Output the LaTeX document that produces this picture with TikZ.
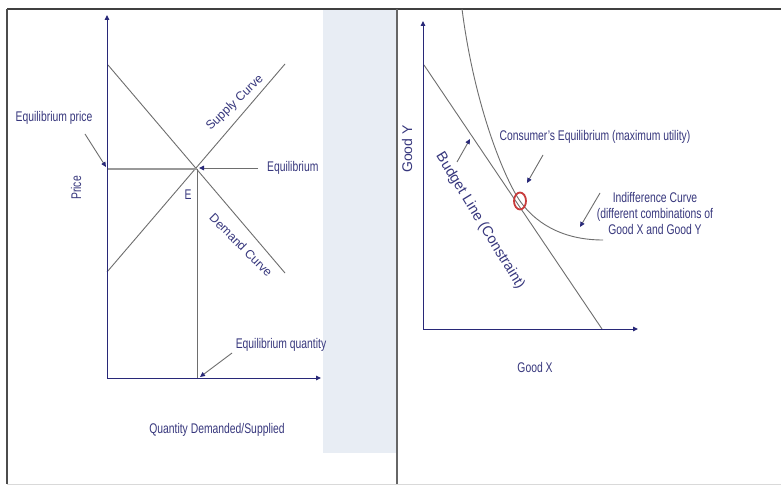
\documentclass[tikz,border=0pt]{standalone}
\usepackage{fontspec}
\setmainfont{Liberation Sans}[FakeStretch=0.74]
\newfontfamily\plainsans{Liberation Sans}
\usetikzlibrary{arrows.meta,shapes.geometric}
\definecolor{txtblue}{RGB}{55,55,125}
\definecolor{navy}{RGB}{40,40,120}
\definecolor{linegray}{RGB}{110,110,110}
\definecolor{panel}{RGB}{232,237,244}
\definecolor{ringred}{RGB}{200,60,60}
\begin{document}
\begin{tikzpicture}[x=1pt,y=-1pt,
  lbl/.style={text=txtblue,font=\fontsize{14}{16}\selectfont,inner sep=1pt},
  rlbl/.style={text=txtblue,font=\plainsans\fontsize{#1}{#1}\selectfont,inner sep=1pt},
  axis/.style={navy,line width=1pt,-{Triangle[length=5pt,width=4.5pt]}},
  curve/.style={linegray,line width=0.9pt},
  pointer/.style={linegray,line width=0.9pt,-{Triangle[length=5pt,width=4.5pt,color=navy]}}]
\useasboundingbox (0,0) rectangle (781,486);
\fill[white] (0,0) rectangle (781,486);
% frame
\fill[panel] (323,10) rectangle (396,453);
\draw[black!75,line width=1.6pt] (7,9) -- (781,9);
\draw[black!70,line width=1.2pt] (7,9) -- (7,484);
\draw[black!60,line width=1.4pt] (397,9) -- (397,484);
\draw[black!15,line width=0.8pt] (7,484) -- (781,484);
% ---------------- left panel
\coordinate (o1) at (107,378);
\coordinate (yt1) at (107,15);
\coordinate (xt1) at (321,378);
\coordinate (dA) at (108,65);
\coordinate (dB) at (285,273);
\coordinate (sA) at (107,272);
\coordinate (sB) at (285,64);
\coordinate (E) at (197,169);
\coordinate (pE) at (107,169);
\coordinate (qE) at (197,378);
\draw[curve] (dA) -- (dB);
\draw[curve] (sA) -- (sB);
\draw[black!40,line width=2pt] (pE) -- (E);
\draw[curve] (E) -- (qE);
\draw[axis] (o1) -- (yt1);
\draw[axis] (o1) -- (xt1);
\node[lbl] (ep) at (54,118) {Equilibrium price};
\coordinate (epT) at (85,134);
\coordinate (epH) at (106,167);
\draw[pointer] (epT) -- (epH);
\node[lbl,anchor=west] (eq) at (266,168) {Equilibrium};
\coordinate (eqH) at (199,168);
\coordinate (eqT) at (258,168);
\draw[pointer] (eqT) -- (eqH);
\node[lbl] (Elbl) at (188,195) {E};
\node[lbl,rotate=90] (price) at (76,188) {Price};
\node[rlbl=12.3,rotate=44] (supply) at (235,103) {Supply Curve};
\node[rlbl=12.3,rotate=-45] (demand) at (241,245) {Demand Curve};
\node[lbl] (eqq) at (281,345) {Equilibrium quantity};
\coordinate (eqqT) at (232,353);
\coordinate (eqqH) at (200,377);
\draw[pointer] (eqqT) -- (eqqH);
\node[lbl] (qds) at (217,430) {Quantity Demanded/Supplied};
% ---------------- right panel
\coordinate (o2) at (423,329);
\coordinate (yt2) at (423,21);
\coordinate (xt2) at (638,329);
\coordinate (bA) at (424,65);
\coordinate (bB) at (602,329);
\draw[curve] (bA) -- (bB);
\draw[axis] (o2) -- (yt2);
\draw[axis] (o2) -- (xt2);
\coordinate (icA) at (462,9);
\coordinate (tan) at (520,201);
\coordinate (icB) at (603,240);
\draw[curve] (icA) .. controls (475,110) and (506,181) .. (tan)
  .. controls (534,221) and (560,240) .. (icB);
\node[draw=ringred,line width=1.8pt,ellipse,minimum width=12pt,minimum height=17pt,inner sep=0pt] (ring) at (tan) {};
\node[rlbl=14,rotate=90] (goody) at (407,149) {Good Y};
\node[lbl] (goodx) at (535,367) {Good X};
\node[lbl] (ce) at (595,137) {Consumer's Equilibrium (maximum utility)};
\coordinate (ceT) at (543,155);
\coordinate (ceH) at (527,183);
\draw[pointer] (ceT) -- (ceH);
\node[lbl,align=center] (ic) at (655,213) {Indifference Curve\\(different combinations of\\Good X and Good Y};
\coordinate (icT) at (600,193);
\coordinate (icH) at (580,227);
\draw[pointer] (icT) -- (icH);
\node[rlbl=14.5,rotate=-58.5] (budget) at (480,221) {Budget Line (Constraint)};
\coordinate (blT) at (457,162);
\coordinate (blH) at (470,139);
\draw[pointer] (blT) -- (blH);
\end{tikzpicture}
\end{document}
